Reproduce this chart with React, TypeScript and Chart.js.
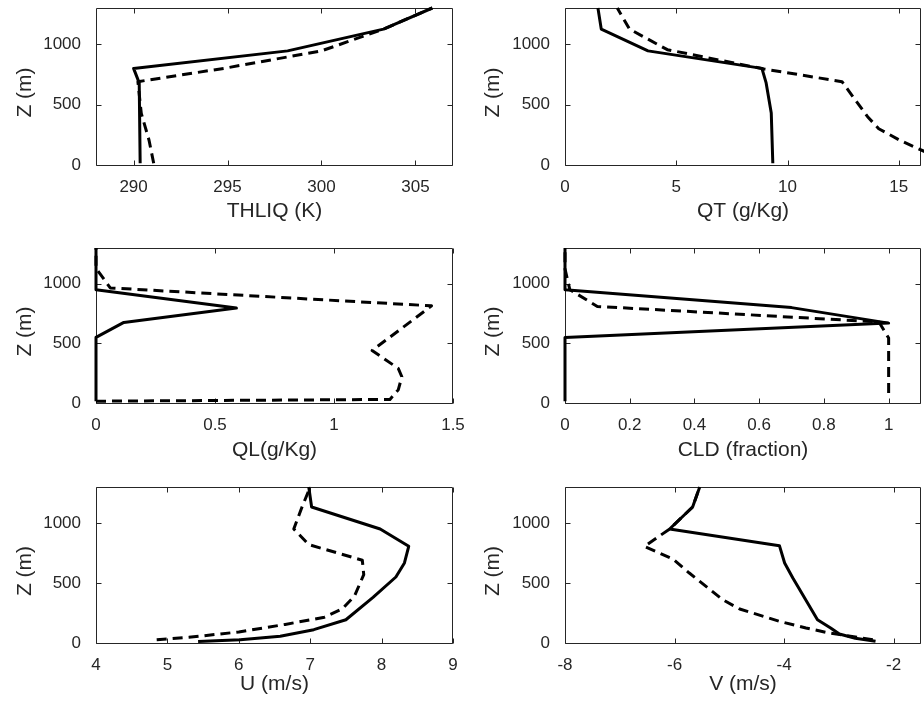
import React, { useEffect, useRef } from 'react';
import { Chart, registerables } from 'chart.js';

Chart.register(...registerables);

// ---------- data ----------
const zTicks = [0, 500, 1000];

const thliqTicks = [290, 295, 300, 305];
const thliqSolidZ = [15, 680, 800, 945, 1125, 1300];
const thliqSolid = [290.35, 290.3, 290.0, 298.2, 303.3, 305.9];
const thliqDashZ = [15, 207, 427, 690, 800, 945, 1125, 1300];
const thliqDash = [291.07, 290.82, 290.41, 290.23, 294.8, 300.0, 303.3, 305.9];

const qtTicks = [0, 5, 10, 15];
const qtSolidZ = [15, 430, 680, 800, 945, 1125, 1300];
const qtSolid = [9.34, 9.27, 9.04, 8.85, 3.73, 1.63, 1.48];
const qtDashZ = [100, 200, 300, 400, 550, 690, 795, 955, 1125, 1300];
const qtDash = [16.3, 15.1, 14.1, 13.6, 13.0, 12.45, 8.95, 4.6, 2.9, 2.35];

const qlTicks = [0, 0.5, 1, 1.5];
const qlSolidZ = [15, 550, 676, 796, 950, 1125, 1300];
const qlSolid = [0, 0, 0.117, 0.59, 0, 0, 0];
const qlDashZ = [15, 30, 110, 220, 290, 440, 815, 965, 1130, 1300];
const qlDash = [0, 1.235, 1.27, 1.285, 1.27, 1.16, 1.41, 0.06, 0, 0];

const cldTicks = [0, 0.2, 0.4, 0.6, 0.8, 1];
const cldSolidZ = [15, 550, 670, 800, 950, 1125, 1300];
const cldSolid = [0, 0, 1.0, 0.7, 0, 0, 0];
const cldDashZ = [84, 545, 680, 810, 950, 1125, 1300];
const cldDash = [1, 1, 0.97, 0.1, 0.015, 0, 0];

const uTicks = [4, 5, 6, 7, 8, 9];
const uSolidZ = [13, 28, 56, 111, 194, 380, 550, 667, 806, 950, 1133, 1300];
const uSolid = [5.43, 6.02, 6.58, 7.05, 7.5, 7.88, 8.2, 8.32, 8.38, 7.98, 7.02, 6.98];
const uDashZ = [28, 47, 92, 155, 215, 285, 390, 570, 690, 820, 950, 1125, 1300];
const uDash = [4.85, 5.3, 6.0, 6.65, 7.2, 7.45, 7.62, 7.75, 7.73, 6.98, 6.77, 6.88, 7.0];

const vTicks = [-8, -6, -4, -2];
const vSolidZ = [14, 40, 75, 125, 194, 541, 667, 811, 950, 1133, 1300];
const vSolid = [-2.33, -2.7, -2.99, -3.15, -3.39, -3.84, -3.99, -4.085, -6.09, -5.67, -5.54];
const vDashZ = [27, 83, 125, 180, 283, 361, 583, 700, 805, 950, 1133, 1300];
const vDash = [-2.38, -3.17, -3.6, -4.08, -4.81, -5.12, -5.73, -6.03, -6.55, -6.09, -5.67, -5.54];

const zTitle = 'Z (m)';

// ---------- layout / style ----------
const AXIS_COLOR = '#262626';
const FONT = "'Liberation Sans', Arial, Helvetica, sans-serif";

const COLS = [
  { left: 0, width: 470, plotLeft: 96, plotRight: 453, yTitleX: 25 },
  { left: 462, width: 462, plotLeft: 565, plotRight: 921, yTitleX: 31 },
];
const ROWS = [
  { top: 0, height: 236, plotTop: 8, plotBottom: 165, xTitlePad: 12.4 },
  { top: 240, height: 236, plotTop: 248, plotBottom: 403, xTitlePad: 13.4 },
  { top: 479, height: 236, plotTop: 487, plotBottom: 643, xTitlePad: 18.5 },
];

type PanelSpec = {
  row: number;
  col: number;
  xTitle: string;
  xMin: number;
  xMax: number;
  xTicks: number[];
  solidX: number[];
  solidZ: number[];
  dashX: number[];
  dashZ: number[];
};

const PANELS: PanelSpec[] = [
  { row: 0, col: 0, xTitle: 'THLIQ (K)', xMin: 288, xMax: 307, xTicks: thliqTicks, solidX: thliqSolid, solidZ: thliqSolidZ, dashX: thliqDash, dashZ: thliqDashZ },
  { row: 0, col: 1, xTitle: 'QT (g/Kg)', xMin: 0, xMax: 16, xTicks: qtTicks, solidX: qtSolid, solidZ: qtSolidZ, dashX: qtDash, dashZ: qtDashZ },
  { row: 1, col: 0, xTitle: 'QL(g/Kg)', xMin: 0, xMax: 1.5, xTicks: qlTicks, solidX: qlSolid, solidZ: qlSolidZ, dashX: qlDash, dashZ: qlDashZ },
  { row: 1, col: 1, xTitle: 'CLD (fraction)', xMin: 0, xMax: 1.1, xTicks: cldTicks, solidX: cldSolid, solidZ: cldSolidZ, dashX: cldDash, dashZ: cldDashZ },
  { row: 2, col: 0, xTitle: 'U (m/s)', xMin: 4, xMax: 9, xTicks: uTicks, solidX: uSolid, solidZ: uSolidZ, dashX: uDash, dashZ: uDashZ },
  { row: 2, col: 1, xTitle: 'V (m/s)', xMin: -8, xMax: -1.5, xTicks: vTicks, solidX: vSolid, solidZ: vSolidZ, dashX: vDash, dashZ: vDashZ },
];

const framePlugin = {
  id: 'frame',
  beforeDatasetsDraw(chart: any) {
    const { ctx, chartArea: a, scales } = chart;
    const L = Math.round(a.left) + 0.5;
    const R = Math.round(a.right) - 0.5;
    const T = Math.round(a.top) + 0.5;
    const B = Math.round(a.bottom) + 0.5;
    const tl = 5;
    ctx.save();
    ctx.strokeStyle = AXIS_COLOR;
    ctx.lineWidth = 1;
    ctx.beginPath();
    ctx.rect(L, T, R - L, B - T);
    scales.x.ticks.forEach((t: any) => {
      const px = Math.round(scales.x.getPixelForValue(t.value)) + 0.5;
      ctx.moveTo(px, B);
      ctx.lineTo(px, B - tl);
      ctx.moveTo(px, T);
      ctx.lineTo(px, T + tl);
    });
    scales.y.ticks.forEach((t: any) => {
      const py = Math.round(scales.y.getPixelForValue(t.value)) + 0.5;
      ctx.moveTo(L, py);
      ctx.lineTo(L + tl, py);
      ctx.moveTo(R, py);
      ctx.lineTo(R - tl, py);
    });
    ctx.stroke();
    ctx.restore();
  },
};

function makeYTitlePlugin(cx: number) {
  return {
    id: 'yTitle',
    afterDraw(chart: any) {
      const { ctx, chartArea: a } = chart;
      ctx.save();
      ctx.fillStyle = AXIS_COLOR;
      ctx.font = `21px ${FONT}`;
      ctx.textAlign = 'center';
      ctx.textBaseline = 'middle';
      ctx.translate(cx, (a.top + a.bottom) / 2 + 6);
      ctx.rotate(-Math.PI / 2);
      ctx.fillText(zTitle, 0, 0);
      ctx.restore();
    },
  };
}

function Panel({ spec }: { spec: PanelSpec }) {
  const ref = useRef<HTMLCanvasElement>(null);
  const col = COLS[spec.col];
  const row = ROWS[spec.row];

  useEffect(() => {
    if (!ref.current) return;
    const solid = spec.solidZ.map((z, i) => ({ x: spec.solidX[i], y: z }));
    const dash = spec.dashZ.map((z, i) => ({ x: spec.dashX[i], y: z }));
    const yWidth = col.plotLeft - col.left;
    const xHeight = row.top + row.height - row.plotBottom;
    const lineStyle = {
      showLine: true,
      borderColor: '#000',
      backgroundColor: '#000',
      borderWidth: 3,
      borderJoinStyle: 'round',
      borderCapStyle: 'butt',
      pointRadius: 0,
      fill: false,
      tension: 0,
      clip: 3,
    };
    const chart = new Chart(ref.current, {
      type: 'scatter',
      data: {
        datasets: [
          { ...lineStyle, data: dash, borderDash: [10, 6] } as any,
          { ...lineStyle, data: solid } as any,
        ],
      },
      options: {
        animation: false,
        responsive: false,
        maintainAspectRatio: false,
        events: [],
        layout: {
          autoPadding: false,
          padding: {
            left: 0,
            top: row.plotTop - row.top,
            right: col.left + col.width - col.plotRight,
            bottom: 0,
          },
        },
        plugins: { legend: { display: false }, tooltip: { enabled: false } },
        scales: {
          x: {
            type: 'linear',
            position: 'bottom',
            min: spec.xMin,
            max: spec.xMax,
            grid: { display: false, drawTicks: false },
            border: { display: false },
            ticks: {
              color: AXIS_COLOR,
              font: { family: FONT, size: 17 },
              padding: 12,
              maxRotation: 0,
              autoSkip: false,
              callback: (v: any) => String(v),
            },
            title: {
              display: true,
              text: spec.xTitle,
              color: AXIS_COLOR,
              font: { family: FONT, size: 21 },
              padding: { top: 0, bottom: row.xTitlePad },
            },
            afterBuildTicks: (s: any) => {
              s.ticks = spec.xTicks.map((v) => ({ value: v }));
            },
            afterFit: (s: any) => {
              s.height = xHeight;
              s.paddingLeft = 0;
              s.paddingRight = 0;
            },
          },
          y: {
            type: 'linear',
            position: 'left',
            min: 0,
            max: 1300,
            grid: { display: false, drawTicks: false },
            border: { display: false },
            ticks: {
              color: AXIS_COLOR,
              font: { family: FONT, size: 17 },
              padding: 15,
              autoSkip: false,
              callback: (v: any) => String(v),
            },
            title: { display: false },
            afterBuildTicks: (s: any) => {
              s.ticks = zTicks.map((v) => ({ value: v }));
            },
            afterFit: (s: any) => {
              s.width = yWidth;
              s.paddingTop = 0;
              s.paddingBottom = 0;
            },
          },
        },
      } as any,
      plugins: [framePlugin, makeYTitlePlugin(col.yTitleX)],
    });
    return () => chart.destroy();
  }, []);

  return (
    <div style={{ position: 'absolute', left: col.left, top: row.top, width: col.width, height: row.height }}>
      <canvas
        ref={ref}
        width={col.width}
        height={row.height}
        style={{ display: 'block', width: col.width, height: row.height }}
      />
    </div>
  );
}

export default function App() {
  return (
    <div
      style={{
        position: 'absolute',
        left: 0,
        top: 0,
        width: 924,
        height: 706,
        overflow: 'hidden',
        background: '#fff',
      }}
    >
      {PANELS.map((p, i) => (
        <Panel key={i} spec={p} />
      ))}
    </div>
  );
}
